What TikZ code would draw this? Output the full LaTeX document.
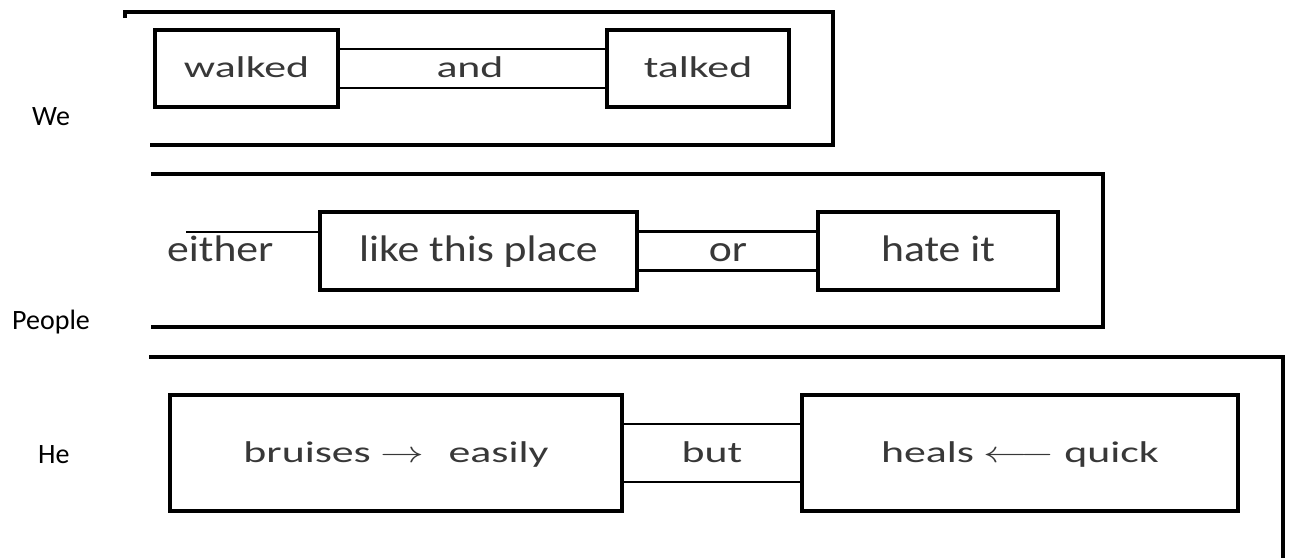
\RequirePackage{fix-cm}
\documentclass[tikz,border=0pt]{standalone}
\usepackage{fontspec}
\setmainfont{Carlito}
\usepackage{graphicx}
\definecolor{txt}{gray}{0.22}
\newcommand\fA{\fontsize{30}{36}\selectfont}
\newcommand\fB{\fontsize{37}{44}\selectfont}
\newcommand\fL{\fontsize{28}{34}\selectfont}
\newcommand\sA[1]{\scalebox{1.46}[1]{#1}}
\newcommand\sB[1]{\scalebox{1.18}[1]{#1}}
\begin{document}
\begin{tikzpicture}[x=1pt,y=-1pt,
 box/.style={draw, line width=3.5pt, inner sep=0pt, text=txt},
 rowA/.style={font=\fA, text height=20pt, text depth=3pt},
 rowB/.style={font=\fB, text height=24pt, text depth=4pt},
 rowC/.style={font=\fA, text height=21pt, text depth=3pt},
 word/.style={inner sep=0pt, text=txt, anchor=base},
 lbl/.style={inner sep=0pt, anchor=base west, font=\fL},
 bracket/.style={line width=3.2pt, line join=miter},
 conn/.style={line width=2.8pt},
 thinline/.style={line width=1.3pt},
]
\fill[white] (0,0) rectangle (1290,557);
\useasboundingbox (0,0) rectangle (1290,557);

% top row
\node[box,rowA,minimum width=183pt,minimum height=77pt] (walked) at (246.5,68.5) {\sA{walked}};
\node[box,rowA,minimum width=182pt,minimum height=77pt] (talked) at (698,68.5) {\sA{talked}};
\node[word,font=\fA] (and) at (470,77) {\sA{and}};
\node[lbl] (we) at (32,125) {We};
\draw[conn] ([yshift=19.5pt]walked.east) -- ([yshift=19.5pt]talked.west);
\draw[conn] ([yshift=-19.5pt]walked.east) -- ([yshift=-19.5pt]talked.west);
\draw[bracket] (125,18) -- (125,12) -- (833,12) -- (833,145) -- (150,145);

% middle row
\node[box,rowB,minimum width=317pt,minimum height=78pt] (like) at (478.5,251) {\sB{like this place}};
\node[box,rowB,minimum width=240pt,minimum height=78pt] (hate) at (938,251) {\sB{hate it}};
\node[word,font=\fB] (or) at (728,261) {\sB{or}};
\node[word,font=\fB,anchor=base west] (either) at (167,261) {\sB{either}};
\coordinate (eitherstart) at (186,232);
\draw[thinline] (eitherstart) -- ([yshift=19pt]like.west);
\draw[conn] ([yshift=19.5pt]like.east) -- ([yshift=19.5pt]hate.west);
\draw[conn] ([yshift=-19.5pt]like.east) -- ([yshift=-19.5pt]hate.west);
\node[lbl] (people) at (12,329) {People};
\draw[bracket] (151,174) -- (1103,174) -- (1103,327) -- (151,327);

% bottom row
\node[box,rowC,minimum width=452pt,minimum height=116pt] (bruises) at (396,453) {\sA{bruises $\rightarrow$\hspace{0.55em}easily}};
\node[box,rowC,minimum width=436pt,minimum height=116pt] (heals) at (1020,453) {\sA{heals $\longleftarrow$ quick}};
\node[word,font=\fA] (but) at (712,462) {\sA{but}};
\node[lbl] (he) at (38,463) {He};
\draw[conn] ([yshift=29pt]bruises.east) -- ([yshift=29pt]heals.west);
\draw[conn] ([yshift=-29pt]bruises.east) -- ([yshift=-29pt]heals.west);
\draw[bracket] (149,357) -- (1283,357) -- (1283,560);
\end{tikzpicture}
\end{document}
